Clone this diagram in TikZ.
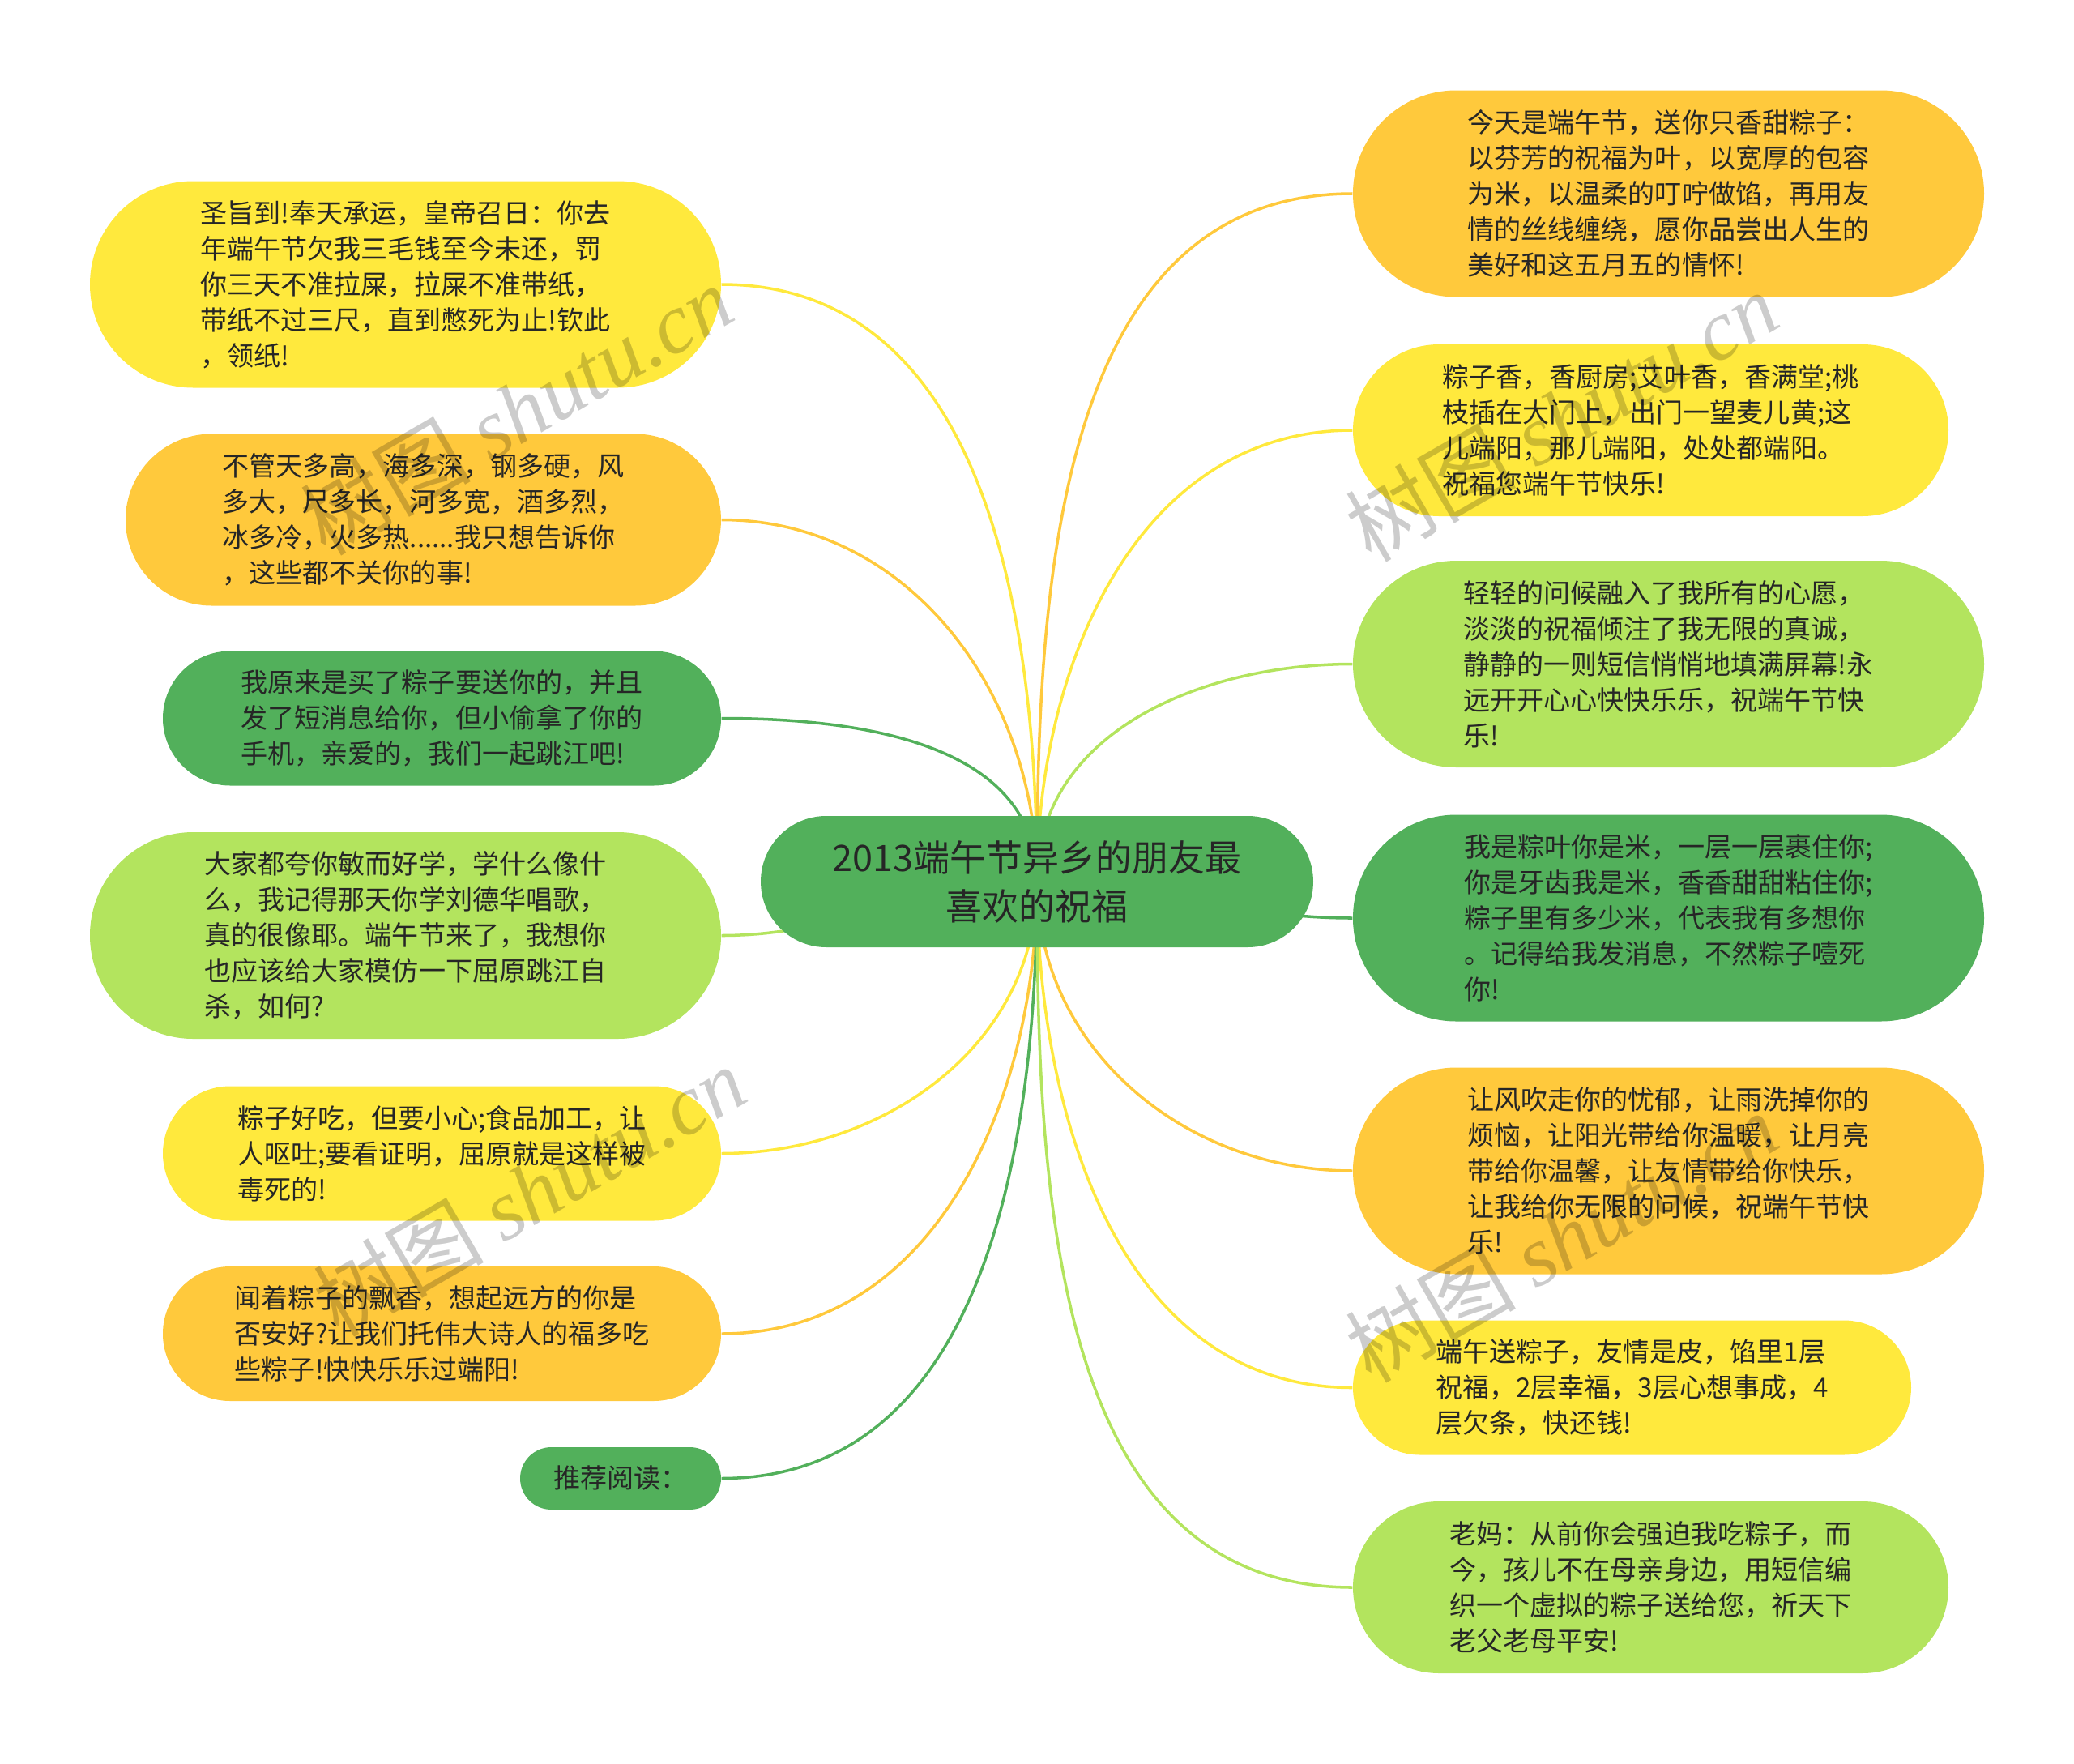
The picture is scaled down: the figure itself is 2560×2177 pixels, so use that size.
\documentclass[tikz,border=0pt]{standalone}
\usepackage{fontspec}
\setmainfont{Noto Sans CJK SC}
\newfontfamily\wmlatin{Liberation Serif}
\usepackage{tikz}
\usetikzlibrary{shapes.misc, backgrounds}
\definecolor{mmyellow}{HTML}{FFE93D}
\definecolor{mmorange}{HTML}{FFC93C}
\definecolor{mmlime}{HTML}{B3E45E}
\definecolor{mmgreen}{HTML}{52B05B}
\definecolor{mmtext}{HTML}{262626}
\tikzset{bubble/.style={rounded rectangle, fill=#1, inner sep=0pt, align=left, text=mmtext, font=\fontsize{9.4pt}{12.5pt}\selectfont},
big/.style={minimum width=77.9mm, minimum height=25.5mm},
mid/.style={minimum width=73.5mm, minimum height=21.2mm},
small/.style={minimum width=68.9mm, minimum height=16.6mm},
branch/.style={line width=1pt, draw=#1},
wmark/.style={text=black, opacity=.2, rotate=30, font=\fontsize{30pt}{30pt}\selectfont}}

\begin{document}
\begin{tikzpicture}[x=0.1mm, y=0.1mm]
        \useasboundingbox (0,0) rectangle (2560,-2177);
        \node[bubble=mmgreen, align=center, minimum width=68.2mm, minimum height=16.2mm, font=\fontsize{12.8pt}{17pt}\selectfont] (ctr) at (1280,-1088) {2013端午节异乡的朋友最\\喜欢的祝福};
        % left side
        \node[bubble=mmyellow, big] (l1) at (500.5,-351) {圣旨到!奉天承运，皇帝召日：你去\\年端午节欠我三毛钱至今未还，罚\\你三天不准拉屎，拉屎不准带纸，\\带纸不过三尺，直到憋死为止!钦此\\，领纸!};
        \node[bubble=mmorange, mid] (l2) at (522.5,-641.5) {不管天多高，海多深，钢多硬，风\\多大，尺多长，河多宽，酒多烈，\\冰多冷，火多热......我只想告诉你\\，这些都不关你的事!};
        \node[bubble=mmgreen, small] (l3) at (545.5,-886.5) {我原来是买了粽子要送你的，并且\\发了短消息给你，但小偷拿了你的\\手机，亲爱的，我们一起跳江吧!};
        \node[bubble=mmlime, big] (l4) at (500.5,-1154.5) {大家都夸你敏而好学，学什么像什\\么，我记得那天你学刘德华唱歌，\\真的很像耶。端午节来了，我想你\\也应该给大家模仿一下屈原跳江自\\杀，如何?};
        \node[bubble=mmyellow, small] (l5) at (545.5,-1423.5) {粽子好吃，但要小心;食品加工，让\\人呕吐;要看证明，屈原就是这样被\\毒死的!};
        \node[bubble=mmorange, small] (l6) at (545.5,-1646) {闻着粽子的飘香，想起远方的你是\\否安好?让我们托伟大诗人的福多吃\\些粽子!快快乐乐过端阳!};
        \node[bubble=mmgreen, minimum width=24.8mm, minimum height=7.7mm] (l7) at (766,-1824.5) {推荐阅读：};
        % right side
        \node[bubble=mmorange, big] (r1) at (2059.5,-239) {今天是端午节，送你只香甜粽子：\\以芬芳的祝福为叶，以宽厚的包容\\为米，以温柔的叮咛做馅，再用友\\情的丝线缠绕，愿你品尝出人生的\\美好和这五月五的情怀!};
        \node[bubble=mmyellow, mid] (r2) at (2037.5,-531) {粽子香，香厨房;艾叶香，香满堂;桃\\枝插在大门上，出门一望麦儿黄;这\\儿端阳，那儿端阳，处处都端阳。\\祝福您端午节快乐!};
        \node[bubble=mmlime, big] (r3) at (2059.5,-819.5) {轻轻的问候融入了我所有的心愿，\\淡淡的祝福倾注了我无限的真诚，\\静静的一则短信悄悄地填满屏幕!永\\远开开心心快快乐乐，祝端午节快\\乐!};
        \node[bubble=mmgreen, big] (r4) at (2059.5,-1133) {我是粽叶你是米，一层一层裹住你;\\你是牙齿我是米，香香甜甜粘住你;\\粽子里有多少米，代表我有多想你\\。记得给我发消息，不然粽子噎死\\你!};
        \node[bubble=mmorange, big] (r5) at (2059.5,-1445) {让风吹走你的忧郁，让雨洗掉你的\\烦恼，让阳光带给你温暖，让月亮\\带给你温馨，让友情带给你快乐，\\让我给你无限的问候，祝端午节快\\乐!};
        \node[bubble=mmyellow, small] (r6) at (2014.5,-1712.5) {端午送粽子，友情是皮，馅里1层\\祝福，2层幸福，3层心想事成，4\\层欠条，快还钱!};
        \node[bubble=mmlime, mid] (r7) at (2037.5,-1959) {老妈：从前你会强迫我吃粽子，而\\今，孩儿不在母亲身边，用短信编\\织一个虚拟的粽子送给您，祈天下\\老父老母平安!};

        \begin{scope}[on background layer]
            \draw[branch=mmyellow] (ctr.center) to[out=90, in=0] (l1.east);
            \draw[branch=mmorange] (ctr.center) to[out=90, in=0] (l2.east);
            \draw[branch=mmgreen] (ctr.center) to[out=90, in=0] (l3.east);
            \draw[branch=mmlime] (ctr.center) to[out=180, in=0] (l4.east);
            \draw[branch=mmyellow] (ctr.center) to[out=-90, in=0] (l5.east);
            \draw[branch=mmorange] (ctr.center) to[out=-90, in=0] (l6.east);
            \draw[branch=mmgreen] (ctr.center) to[out=-90, in=0] (l7.east);
            \draw[branch=mmorange] (ctr.center) to[out=90, in=180] (r1.west);
            \draw[branch=mmyellow] (ctr.center) to[out=90, in=180] (r2.west);
            \draw[branch=mmlime] (ctr.center) to[out=90, in=180] (r3.west);
            \draw[branch=mmgreen] (ctr.center) to[out=0, in=180] (r4.west);
            \draw[branch=mmorange] (ctr.center) to[out=-90, in=180] (r5.west);
            \draw[branch=mmyellow] (ctr.center) to[out=-90, in=180] (r6.west);
            \draw[branch=mmlime] (ctr.center) to[out=-90, in=180] (r7.west);
        \end{scope}

        % watermarks
        \node[wmark] (wm1) at (637,-506) {树图 {\wmlatin\itshape shutu.cn}};
        \node[wmark] (wm2) at (1927,-514) {树图 {\wmlatin\itshape shutu.cn}};
        \node[wmark] (wm3) at (653,-1470) {树图 {\wmlatin\itshape shutu.cn}};
        \node[wmark] (wm4) at (1927,-1527) {树图 {\wmlatin\itshape shutu.cn}};
\end{tikzpicture}
\end{document}
